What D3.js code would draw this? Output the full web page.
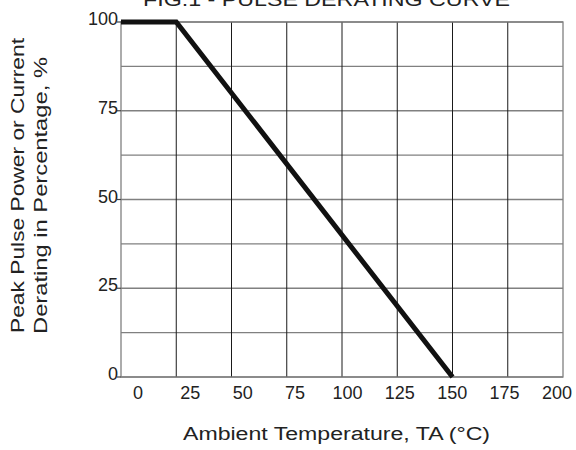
<!DOCTYPE html>
<html><head><meta charset="utf-8">
<script src="https://cdn.jsdelivr.net/npm/d3@7"></script>
<style>html,body{margin:0;padding:0;background:#fff;}svg{display:block;}text{font-family:"Liberation Sans",Arial,sans-serif;fill:#222;}</style>
</head><body>
<script>
const curveTemp = [0, 25, 150];
const curvePct = [100, 100, 0];
const xTicks = [0, 25, 50, 75, 100, 125, 150, 175, 200];
const yTicks = [0, 25, 50, 75, 100];
const yGrid = [0, 12.5, 25, 37.5, 50, 62.5, 75, 87.5, 100];
const title = "FIG.1 - PULSE DERATING CURVE";
const xTitle = "Ambient Temperature, TA (\u00B0C)";
const yTitle1 = "Peak Pulse Power or Current";
const yTitle2 = "Derating in Percentage, %";

const W = 576, H = 450;
const svg = d3.select("body").append("svg").attr("width", W).attr("height", H);
const x = d3.scaleLinear().domain([0, 200]).range([121, 563]);
const xLab = d3.scaleLinear().domain([0, 200]).range([138, 557]);
const y = d3.scaleLinear().domain([0, 100]).range([377, 22]);

// horizontal grid
svg.append("g").selectAll("line").data(yGrid).join("line")
  .attr("x1", x(0)).attr("x2", x(200)).attr("y1", d => y(d)).attr("y2", d => y(d))
  .attr("stroke", "#808080").attr("stroke-width", 1.3);
// vertical grid
svg.append("g").selectAll("line").data(xTicks.filter(d => d > 0 && d < 200)).join("line")
  .attr("x1", d => x(d)).attr("x2", d => x(d)).attr("y1", y(100)).attr("y2", y(0))
  .attr("stroke", "#1a1a1a").attr("stroke-width", 1);
// frame
svg.append("rect").attr("x", x(0)).attr("y", y(100)).attr("width", x(200) - x(0)).attr("height", y(0) - y(100))
  .attr("fill", "none").attr("stroke", "#808080").attr("stroke-width", 1.3);
// y ticks
svg.append("g").selectAll("line").data(yTicks).join("line")
  .attr("x1", x(0) - 4).attr("x2", x(0)).attr("y1", d => y(d)).attr("y2", d => y(d))
  .attr("stroke", "#444").attr("stroke-width", 1.2);
svg.append("g").selectAll("text").data(yTicks).join("text")
  .attr("x", x(0) - 3).attr("y", d => y(d) + 3).attr("text-anchor", "end")
  .attr("font-size", 18).text(d => d);
// x tick labels
svg.append("g").selectAll("text").data(xTicks).join("text")
  .attr("x", d => xLab(d)).attr("y", 399).attr("text-anchor", "middle")
  .attr("font-size", 18).text(d => d);

// curve
const line = d3.line().x(d => x(d[0])).y(d => y(d[1]));
svg.append("path").datum(d3.zip(curveTemp, curvePct)).attr("d", line)
  .attr("fill", "none").attr("stroke", "#111").attr("stroke-width", 5)
  .attr("stroke-linejoin", "miter");

// titles
svg.append("text").attr("x", 143).attr("y", 5.5).attr("font-size", 18.5)
  .attr("textLength", 367).attr("lengthAdjust", "spacingAndGlyphs").text(title);
svg.append("text").attr("x", 183).attr("y", 440).attr("font-size", 18)
  .attr("textLength", 307).attr("lengthAdjust", "spacingAndGlyphs").text(xTitle);
svg.append("text").attr("transform", "translate(23.5,333) rotate(-90)").attr("font-size", 18.5)
  .attr("textLength", 295).attr("lengthAdjust", "spacingAndGlyphs").text(yTitle1);
svg.append("text").attr("transform", "translate(46.5,334) rotate(-90)").attr("font-size", 18.5)
  .attr("textLength", 277).attr("lengthAdjust", "spacingAndGlyphs").text(yTitle2);
</script>
</body></html>
